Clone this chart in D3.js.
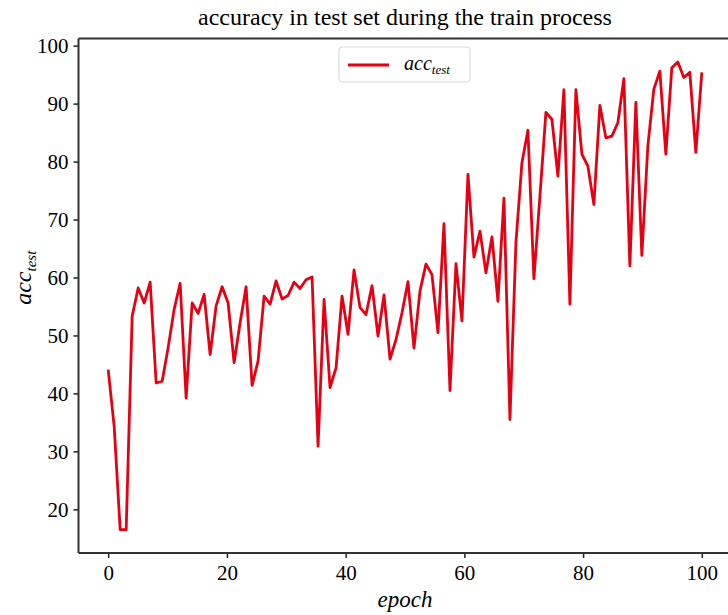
<!DOCTYPE html>
<html lang="en">
<head>
    <meta charset="UTF-8">
    <title>accuracy in test set during the train process</title>
    <script src="https://d3js.org/d3.v7.min.js"></script>
    <style>
        body { margin: 0; background: #fff; }
        text { font-family: "Liberation Serif", "DejaVu Serif", serif; fill: #000; }
        .axis path, .axis line { stroke: #222; }
        .axis text { font-size: 21px; }
    </style>
</head>
<body>
    <div id="chart"></div>
    <script>
        // test accuracy per evaluation, 100 points spread over epochs 0..100
        const acc = [
            44.1, 34.3, 16.5, 16.5, 53.3, 58.2, 55.6, 59.2, 41.8, 42.1,
            47.9, 54.5, 59.0, 39.2, 55.6, 53.8, 57.1, 46.7, 55.1, 58.4,
            55.6, 45.3, 52.2, 58.4, 41.4, 45.6, 56.8, 55.4, 59.4, 56.3,
            56.9, 59.2, 58.1, 59.6, 60.1, 30.9, 56.2, 41.0, 44.4, 56.8,
            50.2, 61.3, 54.8, 53.6, 58.6, 49.9, 57.0, 45.9, 49.3, 53.9,
            59.3, 47.8, 57.7, 62.3, 60.5, 50.5, 69.3, 40.5, 62.4, 52.5,
            77.8, 63.5, 68.0, 60.8, 67.0, 55.9, 73.7, 35.5, 66.0, 79.8,
            85.4, 59.8, 74.0, 88.5, 87.3, 77.5, 92.4, 55.4, 92.4, 81.3,
            79.2, 72.6, 89.7, 84.1, 84.4, 86.7, 94.3, 62.0, 90.2, 63.8,
            82.7, 92.5, 95.6, 81.3, 96.2, 97.2, 94.5, 95.4, 81.6, 95.4
        ];
        const epochMax = 100;
        const xTicks = [0, 20, 40, 60, 80, 100];
        const yTicks = [20, 30, 40, 50, 60, 70, 80, 90, 100];

        const width = 728, height = 615;
        const margin = { top: 38.5, right: -3.5, bottom: 62, left: 78.5 };
        const innerW = width - margin.left - margin.right;
        const innerH = height - margin.top - margin.bottom;

        const epoch = i => i * epochMax / (acc.length - 1);

        // matplotlib-like 5% padding
        const [lo, hi] = d3.extent(acc);
        const pad = (hi - lo) * 0.05;

        const x = d3.scaleLinear()
            .domain([-epochMax * 0.05, epochMax * 1.05])
            .range([0, innerW]);

        const y = d3.scaleLinear()
            .domain([lo - pad, hi + pad])
            .range([innerH, 0]);

        const svg = d3.select("#chart").append("svg")
            .attr("width", width)
            .attr("height", height);

        const g = svg.append("g")
            .attr("transform", `translate(${margin.left},${margin.top})`);

        // line
        const line = d3.line()
            .x((d, i) => x(epoch(i)))
            .y(d => y(d));

        g.append("path")
            .datum(acc)
            .attr("fill", "none")
            .attr("stroke", "#e60012")
            .attr("stroke-width", 2.8)
            .attr("stroke-linejoin", "round")
            .attr("d", line);

        // axes
        const xAxis = g.append("g")
            .attr("class", "axis")
            .attr("transform", `translate(0,${innerH})`)
            .call(d3.axisBottom(x).tickValues(xTicks).tickSize(5).tickPadding(7));

        const yAxis = g.append("g")
            .attr("class", "axis")
            .call(d3.axisLeft(y).tickValues(yTicks).tickSize(5).tickPadding(5));

        [xAxis, yAxis].forEach(a => {
            a.select(".domain").remove();
            a.selectAll("line").attr("stroke-width", 1.5);
        });

        // spines (left, bottom, top; right one falls outside the window)
        g.append("line").attr("x1", 0).attr("x2", 0).attr("y1", 0).attr("y2", innerH)
            .attr("stroke", "#333").attr("stroke-width", 2);
        g.append("line").attr("x1", 0).attr("x2", innerW).attr("y1", innerH).attr("y2", innerH)
            .attr("stroke", "#333").attr("stroke-width", 2);
        g.append("line").attr("x1", 0).attr("x2", innerW).attr("y1", 0).attr("y2", 0)
            .attr("stroke", "#333").attr("stroke-width", 2);

        // title
        svg.append("text")
            .attr("x", margin.left + innerW / 2)
            .attr("y", 25)
            .attr("text-anchor", "middle")
            .style("font-size", "24px")
            .text("accuracy in test set during the train process");

        // x label
        svg.append("text")
            .attr("x", margin.left + innerW / 2)
            .attr("y", 607)
            .attr("text-anchor", "middle")
            .style("font-size", "23px")
            .style("font-style", "italic")
            .text("epoch");

        // y label
        const yl = svg.append("text")
            .attr("transform", `translate(31,${margin.top + innerH / 2 - 18}) rotate(-90)`)
            .attr("text-anchor", "middle")
            .style("font-size", "24px")
            .style("font-style", "italic");
        yl.append("tspan").text("acc");
        yl.append("tspan").attr("dy", 5).style("font-size", "15px").text("test");

        // legend
        const lg = svg.append("g").attr("transform", "translate(339,47)");
        lg.append("rect")
            .attr("width", 131).attr("height", 35)
            .attr("rx", 3)
            .attr("fill", "#fff")
            .attr("stroke", "#d5d5d5");
        lg.append("line")
            .attr("x1", 9).attr("x2", 50).attr("y1", 18).attr("y2", 18)
            .attr("stroke", "#e60012").attr("stroke-width", 2.8);
        const lt = lg.append("text")
            .attr("x", 65).attr("y", 23)
            .style("font-size", "20px")
            .style("font-style", "italic");
        lt.append("tspan").text("acc");
        lt.append("tspan").attr("dy", 4).style("font-size", "13px").text("test");
    </script>
</body>
</html>
